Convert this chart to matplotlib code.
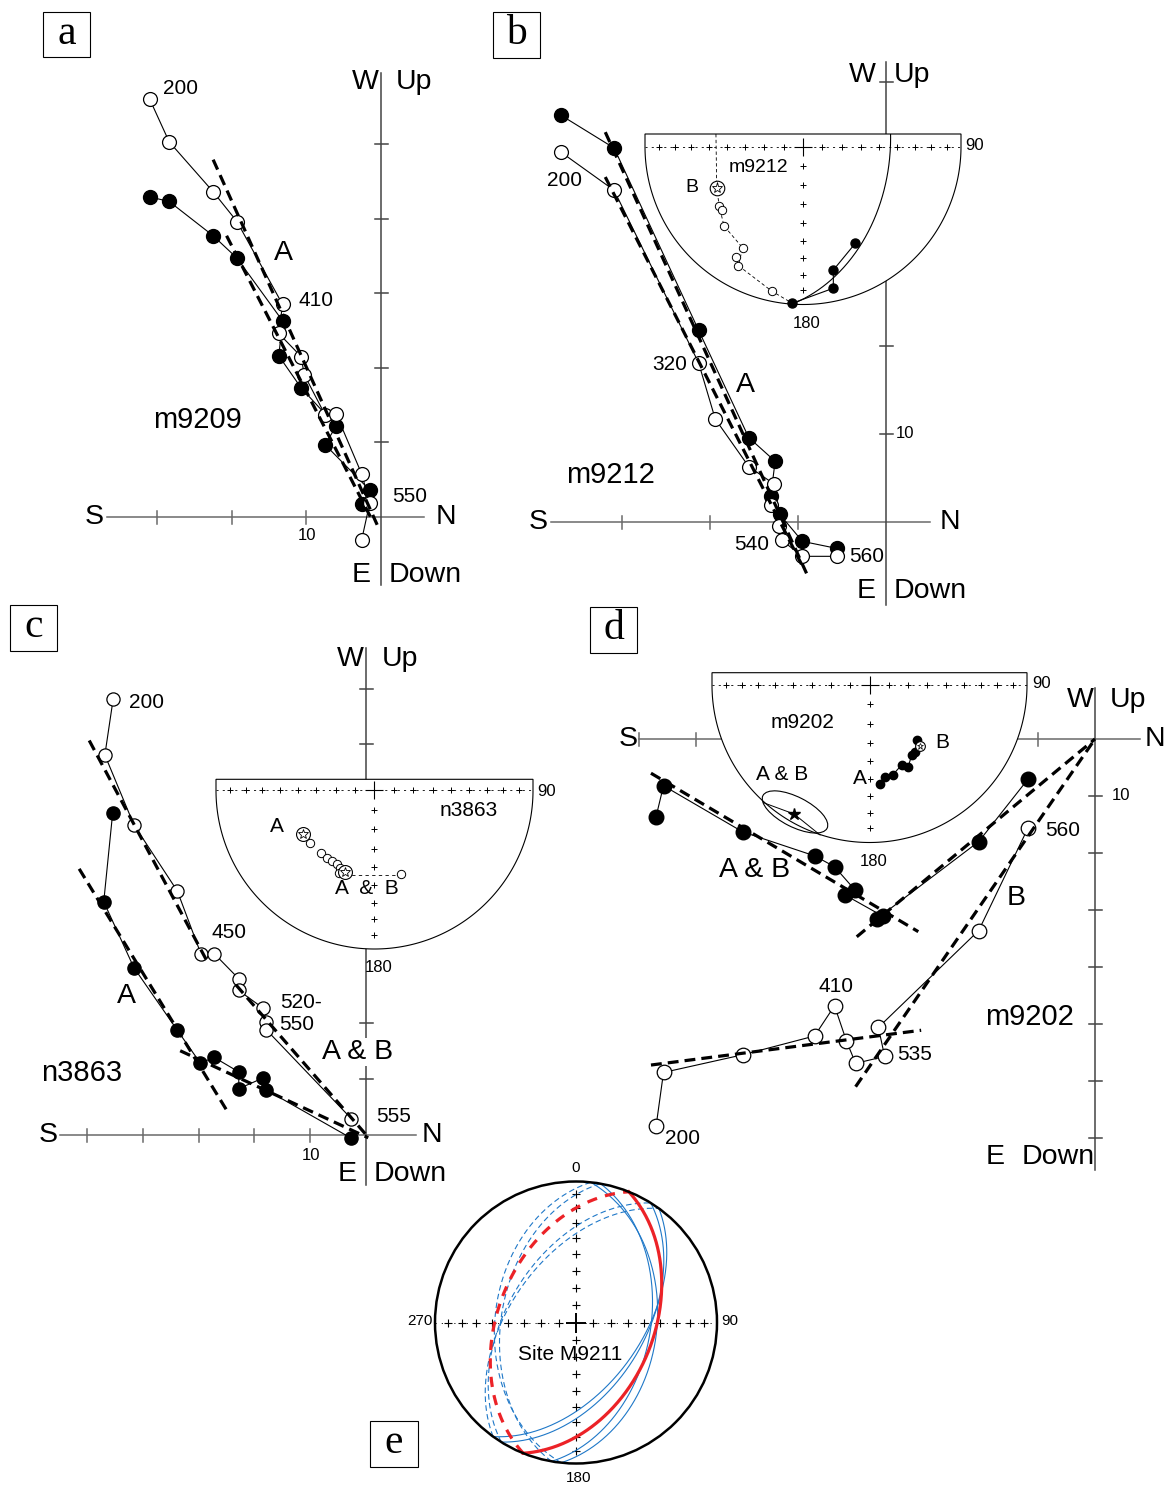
import numpy as np
import matplotlib
matplotlib.use('Agg')
import matplotlib.pyplot as plt
from matplotlib.patches import Polygon, Ellipse, Rectangle, Circle

plt.rcParams['font.family'] = ['Liberation Sans', 'DejaVu Sans']

W, H = 1169, 1488

# ---------------------------------------------------------------
# Zijderveld data (N component, vertical component), 1 tick = 10
# ---------------------------------------------------------------
# a) m9209
a_fill_n = [-31.0, -28.4, -22.5, -19.3, -13.2, -13.7, -10.7, -6.0, -7.5, -1.5, -2.6]
a_fill_up = [42.9, 42.3, 37.7, 34.7, 26.3, 21.6, 17.3, 12.2, 9.7, 3.6, 1.8]
a_open_n = [-31.0, -28.4, -22.5, -19.3, -13.2, -13.7, -10.7, -10.3, -7.5, -6.0, -2.6, -1.5, -2.6]
a_open_up = [56.0, 50.3, 43.6, 39.6, 28.5, 24.6, 21.5, 19.1, 13.7, 13.8, 5.8, 1.9, -3.1]
a_fits = [([-22.5, -0.4], [47.9, -1.3]), ([-20.7, -1.1], [37.7, -0.6])]

# b) m9212
b_fill_n = [-36.9, -30.9, -21.3, -15.6, -12.6, -13.1, -12.1, -9.5, -5.6]
b_fill_up = [46.2, 42.5, 21.8, 9.6, 6.9, 2.9, 0.9, -2.2, -3.0]
b_open_n = [-36.9, -30.9, -21.3, -19.4, -15.6, -12.7, -13.1, -12.2, -11.8, -9.5, -5.6]
b_open_up = [42.0, 37.7, 18.1, 11.7, 6.3, 4.3, 1.9, -0.4, -2.1, -3.9, -3.9]
b_fits = [([-31.9, -9.0], [44.3, -5.9]), ([-31.9, -9.4], [39.2, -5.2])]

# c) n3863
c_fill_n = [-45.4, -47.0, -41.6, -33.9, -29.7, -27.2, -22.8, -22.8, -18.5, -17.9, -2.6]
c_fill_up = [57.7, 41.8, 30.0, 18.9, 12.9, 13.9, 11.3, 8.3, 10.2, 8.1, -0.6]
c_open_n = [-45.3, -46.8, -41.6, -33.8, -29.6, -27.2, -22.8, -22.8, -18.4, -17.9, -17.9, -2.6]
c_open_up = [78.2, 68.1, 55.6, 43.7, 32.5, 32.5, 28.0, 25.9, 22.7, 20.3, 18.9, 2.9]
c_fits = [([-49.6, -28.3], [70.7, 30.8]), ([-23.3, 0.4], [26.9, -0.4]),
          ([-51.4, -24.7], [47.7, 4.0]), ([-33.3, 0.4], [15.1, -0.5])]

# d) m9202
d_fill_n = [-77.0, -75.7, -61.8, -49.2, -45.7, -42.1, -43.8, -37.2, -38.2, -20.4, -11.8]
d_fill_up = [-13.6, -8.2, -16.3, -20.5, -22.4, -26.5, -27.4, -31.1, -31.5, -18.0, -7.1]
d_open_n = [-77.0, -75.7, -61.8, -49.2, -45.7, -43.6, -42.0, -36.9, -38.0, -20.4, -11.8]
d_open_up = [-67.9, -58.5, -55.4, -52.1, -46.8, -53.0, -56.9, -55.7, -50.6, -33.6, -15.7]
d_fits = [([-77.9, -31.0], [-6.0, -33.8]), ([-41.8, 0.0], [-34.7, 0.0]),
          ([-77.9, -30.5], [-57.2, -51.1]), ([-42.0, 0.0], [-61.0, 0.0])]

# ---------------------------------------------------------------
# Equal-area insets (x east, y north, net radius = 1)
# ---------------------------------------------------------------
b_star = (-0.546, -0.265)
b_open_x = [-0.530, -0.515, -0.500, -0.382, -0.424, -0.409, -0.198]
b_open_y = [-0.377, -0.402, -0.503, -0.641, -0.697, -0.754, -0.915]
b_path_x = [-0.551, -0.546, -0.530, -0.500, -0.382, -0.409, -0.198, -0.068]
b_path_y = [0.079, -0.265, -0.377, -0.503, -0.641, -0.754, -0.915, -0.992]
b_fill_x = [0.331, 0.192, 0.192, -0.068]
b_fill_y = [-0.613, -0.782, -0.897, -0.992]
b_gc = (94, 44)

c_star_a = (-0.449, -0.276)
c_star_ab = (-0.186, -0.512)
c_open_x = [-0.407, -0.338, -0.302, -0.270, -0.238, -0.218, -0.222, -0.200, 0.165]
c_open_y = [-0.329, -0.392, -0.426, -0.443, -0.464, -0.491, -0.519, -0.520, -0.529]

d_fill_x = [0.067, 0.098, 0.147, 0.204, 0.246, 0.268, 0.289, 0.304]
d_fill_y = [-0.629, -0.586, -0.571, -0.508, -0.519, -0.444, -0.423, -0.349]
d_star_b = (0.321, -0.387)
d_star_ab = (-0.479, -0.819)
d_ell = (-0.473, -0.806, 0.457, 0.19, -27)
d_arc_x = [-0.674, -0.479, -0.314]
d_arc_y = [-0.747, -0.819, -0.952]

# e) site M9211 planes (dip direction, dip)
e_blue_dd = [96, 100, 122, 126]
e_blue_dip = [42, 46, 50, 52]
e_red_dd, e_red_dip = 112, 44

fig = plt.figure(figsize=(W / 100, H / 100), dpi=100)


def frame_axes(ox, oy, k):
    # full-figure axes, origin at pixel (ox, oy), k pixels per unit
    ax = fig.add_axes([0, 0, 1, 1])
    ax.set_xlim(-ox / k, (W - ox) / k)
    ax.set_ylim((oy - H) / k, oy / k)
    ax.axis('off')
    return ax


def zij(ax, k, xr, yr, xt, yt, fn, fu, on, ou, fits, ms=10):
    tl = 6.5 / k
    ax.plot(xr, [0, 0], color='#6a6a6a', lw=1.1, zorder=1)
    ax.plot([0, 0], yr, color='#444444', lw=1.1, zorder=1)
    for t in xt:
        ax.plot([t, t], [-tl, tl], color='#6a6a6a', lw=1.1, zorder=1)
    for t in yt:
        ax.plot([-tl, tl], [t, t], color='#444444', lw=1.1, zorder=1)
    ax.plot(fn, fu, '-', color='k', lw=0.8, zorder=2)
    ax.plot(on, ou, '-', color='k', lw=0.8, zorder=2)
    ax.plot(fn, fu, 'o', mfc='k', mec='k', ms=ms, zorder=3)
    ax.plot(on, ou, 'o', mfc='white', mec='k', mew=0.9, ms=ms, zorder=3)
    for fx, fy in fits:
        ax.plot(fx, fy, color='k', lw=2.3, dashes=(3.4, 1.9), zorder=4)


EA = np.sqrt(2) * np.sin(np.radians(np.arange(10, 90, 10) / 2))


def half_net(cx, cy, R, top):
    ax = frame_axes(cx, cy, R)
    ft = (cy - top) / R
    t = np.linspace(0, -np.pi, 300)
    verts = np.column_stack([np.r_[-1, 1, np.cos(t)], np.r_[ft, ft, np.sin(t)]])
    outline = Polygon(verts, closed=True, fc='white', ec='k', lw=0.8, zorder=1)
    ax.add_patch(outline)
    ax.plot([-1, 1], [0, 0], color='k', lw=0.6, dashes=(2.5, 5), zorder=2)
    ax.plot(np.r_[-EA, EA], np.zeros(16), '+', color='k', ms=5, mew=0.7, zorder=2)
    ax.plot(np.zeros(8), -EA, '+', color='k', ms=5, mew=0.7, zorder=2)
    ax.plot([0], [0], '+', color='k', ms=13, mew=0.8, zorder=2)
    return ax, outline


def great_circle(dd, dip, n=361):
    t = np.radians(np.linspace(0, 180, n))
    s, d, p = np.radians(dd - 90), np.radians(dd), np.radians(dip)
    e = np.cos(t) * np.sin(s) + np.sin(t) * np.sin(d) * np.cos(p)
    nn = np.cos(t) * np.cos(s) + np.sin(t) * np.cos(d) * np.cos(p)
    z = np.sin(t) * np.sin(p)
    h = np.hypot(e, nn)
    r = np.sqrt(np.clip(1 - z, 0, None))
    return r * e / h, r * nn / h


# ---- panel a ----
ax = frame_axes(381, 517, 7.46)
zij(ax, 7.46, [-36.7, 5.8], [-9.1, 59.5], [-10, -20, -30], [10, 20, 30, 40, 50],
    a_fill_n, a_fill_up, a_open_n, a_open_up, a_fits)

# ---- panel b ----
ax = frame_axes(886, 522, 8.8)
zij(ax, 8.8, [-38.1, 5.0], [-9.4, 52.3], [-10, -20, -30], [10, 20, 30, 40, 50],
    b_fill_n, b_fill_up, b_open_n, b_open_up, b_fits)
ax, outl = half_net(803, 146.5, 158, 134)
gx, gy = great_circle(*b_gc)
ln, = ax.plot(gx, gy, color='k', lw=0.8, zorder=3)
ln.set_clip_path(outl)
ax.plot(b_path_x, b_path_y, color='k', lw=0.6, dashes=(4, 3), zorder=3)
ax.plot(b_fill_x, b_fill_y, '-', color='k', lw=0.8, zorder=3)
ax.plot(b_fill_x, b_fill_y, 'o', color='k', ms=6.5, zorder=4)
ax.plot(b_open_x, b_open_y, 'o', mfc='white', mec='k', mew=0.7, ms=6, zorder=4)
ax.plot(*b_star, 'o', mfc='white', mec='k', mew=0.8, ms=10.5, zorder=4)
ax.plot(*b_star, '*', mfc='white', mec='k', mew=0.6, ms=8, zorder=5)

# ---- panel c ----
ax = frame_axes(366, 1135, 5.58)
zij(ax, 5.58, [-54.8, 9.0], [-9.0, 87.3], [-10, -20, -30, -40, -50], [10, 20, 70, 80],
    c_fill_n, c_fill_up, c_open_n, c_open_up, c_fits, ms=9.5)
ax, outl = half_net(374.5, 790.5, 158.5, 779.3)
ax.plot([c_star_ab[0], c_open_x[-1]], [-0.535, -0.535], color='k', lw=0.6,
        dashes=(4, 4), zorder=3)
ax.plot(c_open_x, c_open_y, 'o', mfc='white', mec='k', mew=0.7, ms=6, zorder=4)
for st in (c_star_a, c_star_ab):
    ax.plot(*st, 'o', mfc='white', mec='k', mew=0.8, ms=10, zorder=5)
    ax.plot(*st, '*', mfc='white', mec='k', mew=0.6, ms=7.5, zorder=6)

# ---- panel d ----
ax = frame_axes(1095, 739, 5.7)
zij(ax, 5.7, [-80.0, 7.9], [-75.6, 8.9], [-10, -70, -80], [-10, -20, -30, -40, -50, -60, -70],
    d_fill_n, d_fill_up, d_open_n, d_open_up, d_fits, ms=10.5)
ax, outl = half_net(869.5, 685, 157.5, 672.7)
ax.add_patch(Ellipse(d_ell[:2], d_ell[2], d_ell[3], angle=d_ell[4], fc='none',
                     ec='k', lw=0.8, zorder=3))
ax.plot(d_arc_x, d_arc_y, color='k', lw=0.7, zorder=3)
ax.plot(*d_star_ab, '*', color='k', ms=9, zorder=4)
ax.plot(d_fill_x, d_fill_y, '-', color='k', lw=0.8, zorder=3)
ax.plot(d_fill_x, d_fill_y, 'o', color='k', ms=6, zorder=4)
ax.plot(*d_star_b, 'o', mfc='white', mec='k', mew=0.8, ms=7, zorder=5)
ax.plot(*d_star_b, '*', mfc='white', mec='k', mew=0.5, ms=5, zorder=6)

# ---- panel e ----
ax = frame_axes(576, 1322.5, 141)
ax.add_patch(Circle((0, 0), 1, fc='none', ec='k', lw=1.8, zorder=5))
ax.plot([-1, 1], [0, 0], color='k', lw=0.6, dashes=(1.5, 6), zorder=2)
ax.plot(np.r_[-EA, EA], np.zeros(16), '+', color='k', ms=5.5, mew=0.8, zorder=2)
ax.plot(np.zeros(16), np.r_[-EA, EA], '+', color='k', ms=5.5, mew=0.8, zorder=2)
ax.plot([0], [0], '+', color='k', ms=14, mew=1.4, zorder=2)
blue, red = '#1f78c8', '#ec2227'
for dd, dip in zip(e_blue_dd, e_blue_dip):
    gx, gy = great_circle(dd, dip)
    ax.plot(gx, gy, color=blue, lw=0.8, zorder=3)
    ax.plot(-gx, -gy, color=blue, lw=0.8, dashes=(5, 3), zorder=3)
gx, gy = great_circle(e_red_dd, e_red_dip)
ax.plot(gx, gy, color=red, lw=2.3, zorder=4)
ax.plot(-gx, -gy, color=red, lw=2.3, dashes=(3.2, 2.6), zorder=4)

# ---- text overlay in pixel coordinates ----
ov = fig.add_axes([0, 0, 1, 1])
ov.set_xlim(0, W)
ov.set_ylim(H, 0)
ov.axis('off')


def txt(x, y, s, size, **kw):
    ov.text(x, y, s, fontsize=size, ha='center', va='center', **kw)


for lab, x0, y0, w, h in [('a', 43, 12, 47, 45), ('b', 493, 12, 47, 46), ('c', 10, 605, 47, 46),
                          ('d', 590, 607, 47, 46), ('e', 370, 1421, 48, 46)]:
    ov.add_patch(Rectangle((x0, y0), w, h, fill=False, ec='k', lw=0.8))
    txt(x0 + w / 2, y0 + h / 2 - 1, lab, 30, family=['Liberation Serif', 'DejaVu Serif'])

BIG, NUM = 20.5, 15
white = dict(fc='white', ec='none', pad=1)
# a
for s, x, y, fs in [('W', 365, 82, BIG), ('Up', 414, 82, BIG), ('S', 94, 517, BIG), ('N', 446, 517, BIG),
                    ('E', 361, 575, BIG), ('Down', 425, 575, BIG), ('10', 307, 536, 12),
                    ('200', 180, 89, NUM), ('410', 316, 300, NUM), ('550', 410, 497, NUM),
                    ('A', 283, 253, BIG), ('m9209', 197, 420, 21)]:
    txt(x, y, s, fs)
# b
for s, x, y, fs in [('W', 862, 75, BIG), ('Up', 912, 75, BIG), ('S', 538, 522, BIG), ('N', 950, 522, BIG),
                    ('E', 866, 591, BIG), ('Down', 930, 591, BIG), ('10', 905, 434, 12),
                    ('200', 564, 181, NUM), ('320', 670, 364, NUM), ('540', 752, 544, NUM),
                    ('560', 867, 557, NUM), ('A', 745, 385, BIG), ('m9212', 611, 475, 21),
                    ('m9212', 758, 167, 14), ('B', 692, 188, 14), ('90', 975, 146, 12),
                    ('180', 807, 323, 12)]:
    txt(x, y, s, fs)
# c
for s, x, y, fs in [('W', 350, 659, BIG), ('Up', 400, 659, BIG), ('S', 48, 1135, BIG), ('N', 432, 1135, BIG),
                    ('E', 347, 1174, BIG), ('Down', 410, 1174, BIG), ('10', 311, 1156, 12),
                    ('200', 146, 702, NUM), ('450', 229, 932, NUM), ('520-', 301, 1002, NUM),
                    ('550', 297, 1024, NUM), ('555', 394, 1116, NUM), ('A', 126, 996, BIG),
                    ('n3863', 82, 1073, 21), ('A', 277, 826, 15), ('n3863', 469, 811, 15),
                    ('90', 547, 791, 12), ('180', 379, 968, 12)]:
    txt(x, y, s, fs)
txt(358, 1052, 'A & B', BIG, bbox=white)
txt(367, 888, 'A  &  B', 15)
# d
for s, x, y, fs in [('W', 1080, 700, BIG), ('Up', 1128, 700, BIG), ('S', 628, 739, BIG), ('N', 1155, 739, BIG),
                    ('E', 995, 1157, BIG), ('Down', 1058, 1157, BIG), ('10', 1121, 796, 12),
                    ('560', 1063, 831, NUM), ('B', 1016, 898, BIG), ('A & B', 755, 870, BIG),
                    ('m9202', 1030, 1017, 21), ('410', 836, 987, NUM), ('535', 915, 1055, NUM),
                    ('200', 682, 1138, NUM), ('m9202', 802, 722, 15), ('B', 942, 742, 15),
                    ('90', 1042, 684, 12), ('180', 874, 862, 12)]:
    txt(x, y, s, fs)
txt(782, 775, 'A & B', 15, bbox=white)
txt(860, 778, 'A', 15, bbox=white)
# e
for s, x, y, fs in [('0', 576, 1168, 11), ('90', 730, 1321, 11), ('180', 579, 1478, 11),
                    ('270', 420, 1321, 11), ('Site M9211', 570, 1354, 15)]:
    txt(x, y, s, fs)

fig.savefig('out.png', dpi=100)
